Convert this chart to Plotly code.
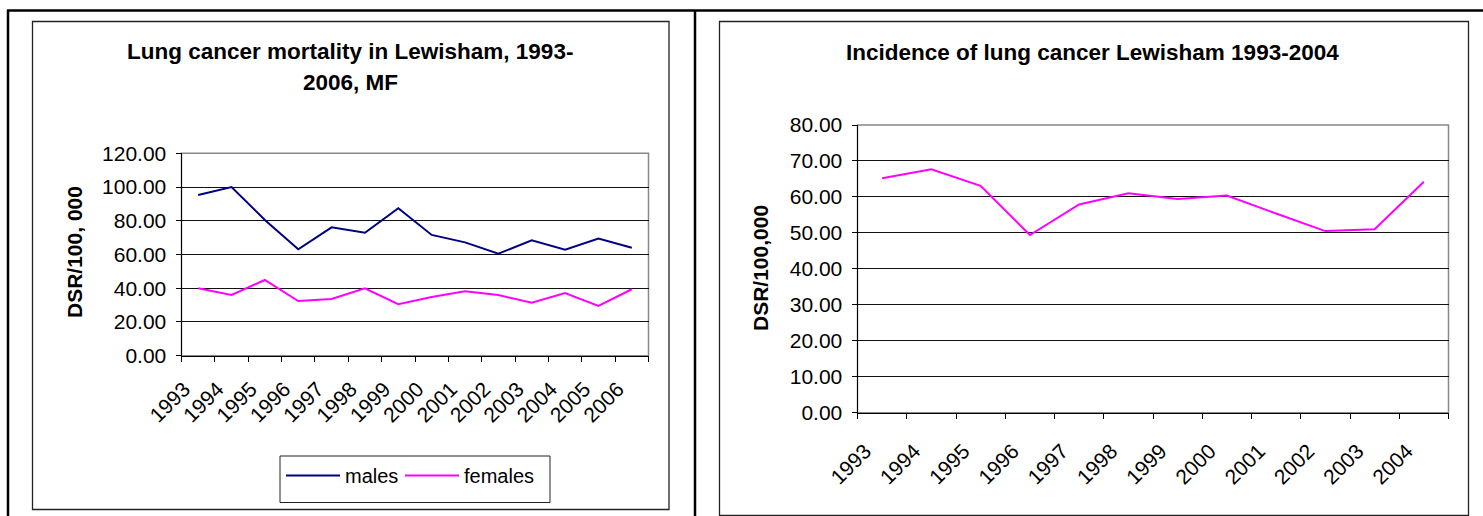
import plotly.graph_objects as go

# ---- data ----
mort_years = ["1993", "1994", "1995", "1996", "1997", "1998", "1999", "2000",
              "2001", "2002", "2003", "2004", "2005", "2006"]
males = [95.3, 100.0, 80.5, 63.1, 76.1, 72.9, 87.4, 71.6, 67.2, 60.5, 68.4, 62.8, 69.4, 64.0]
females = [40.0, 36.0, 44.9, 32.4, 33.6, 40.0, 30.5, 34.8, 38.2, 36.0, 31.4, 37.2, 29.5, 39.4]

inc_years = ["1993", "1994", "1995", "1996", "1997", "1998", "1999", "2000",
             "2001", "2002", "2003", "2004"]
incidence = [65.2, 67.7, 63.1, 49.4, 57.9, 61.0, 59.4, 60.4, 55.4, 50.5, 51.0, 64.2]

title_left_1 = "Lung cancer mortality in Lewisham, 1993-"
title_left_2 = "2006, MF"
title_right = "Incidence of lung cancer Lewisham 1993-2004"
ylabel_left = "DSR/100, 000"
ylabel_right = "DSR/100,000"

W, H = 1483, 516
FONT = "Liberation Sans, Arial, sans-serif"


def px(x):
    return x / W


def py(y):
    return 1 - y / H


fig = go.Figure()
fig.add_trace(go.Scatter(x=mort_years, y=males, mode="lines", name="males",
                         line=dict(color="#000080", width=2), xaxis="x", yaxis="y",
                         legend="legend"))
fig.add_trace(go.Scatter(x=mort_years, y=females, mode="lines", name="females",
                         line=dict(color="#FF00FF", width=2), xaxis="x", yaxis="y",
                         legend="legend2"))
fig.add_trace(go.Scatter(x=inc_years, y=incidence, mode="lines", name="incidence",
                         line=dict(color="#FF00FF", width=2), xaxis="x2", yaxis="y2",
                         showlegend=False))

tickfont = dict(family=FONT, size=21, color="black")
xcommon = dict(type="category", tickson="boundaries", ticks="outside", ticklen=5,
               tickcolor="black", tickangle=-45, showline=True, linecolor="black",
               linewidth=1, showgrid=False, zeroline=False, tickfont=tickfont,
               fixedrange=True, automargin=False)
ycommon = dict(tickformat=".2f", showgrid=True, gridcolor="#111111", gridwidth=1,
               showline=True, linecolor="black", linewidth=1, ticks="outside",
               ticklen=5, tickcolor="black", zeroline=False, tickfont=tickfont,
               fixedrange=True, automargin=False, ticklabelstandoff=5)

legend_common = dict(orientation="h", xanchor="left", yanchor="top",
                     font=dict(family=FONT, size=20, color="black"),
                     bgcolor="rgba(0,0,0,0)", borderwidth=0, itemwidth=54)

fig.update_layout(
    template="none",
    width=W, height=H,
    margin=dict(l=0, r=0, t=0, b=0, pad=0, autoexpand=False),
    paper_bgcolor="white", plot_bgcolor="white",
    font=dict(family=FONT, size=20, color="black"),
    xaxis=dict(domain=[px(181.5), px(648.5)], anchor="y",
               categoryorder="array", categoryarray=mort_years,
               range=[-0.5, len(mort_years) - 0.5],
               ticklabelstandoff=12, ticklabelshift=-14, **xcommon),
    yaxis=dict(domain=[py(355.7), py(153.3)], anchor="x", range=[0, 120], dtick=20,
               **ycommon),
    xaxis2=dict(domain=[px(857.5), px(1448.5)], anchor="y2",
                categoryorder="array", categoryarray=inc_years,
                range=[-0.5, len(inc_years) - 0.5],
                ticklabelstandoff=17, ticklabelshift=-17, **xcommon),
    yaxis2=dict(domain=[py(412.7), py(125)], anchor="x2", range=[0, 80], dtick=10,
                **ycommon),
    showlegend=True,
    legend=dict(x=px(281), y=py(456), **legend_common),
    legend2=dict(x=px(400), y=py(456), **legend_common),
)

shapes = []
# outer table lines
shapes.append(dict(type="line", xref="paper", yref="paper", x0=px(7), x1=1, y0=py(10.5), y1=py(10.5),
                   line=dict(color="black", width=2.5)))
shapes.append(dict(type="line", xref="paper", yref="paper", x0=px(8), x1=px(8), y0=py(10), y1=0,
                   line=dict(color="black", width=2.5)))
shapes.append(dict(type="line", xref="paper", yref="paper", x0=px(695), x1=px(695), y0=py(10), y1=0,
                   line=dict(color="black", width=2.5)))
# chart frames
shapes.append(dict(type="rect", xref="paper", yref="paper", x0=px(32.5), x1=px(669), y0=py(509.5), y1=py(21.5),
                   line=dict(color="#222222", width=1.3)))
shapes.append(dict(type="rect", xref="paper", yref="paper", x0=px(719.5), x1=px(1468.5), y0=py(515.5), y1=py(21.5),
                   line=dict(color="#222222", width=1.3)))
# plot area gray frames (top/right)
for xr, yr in (("x", "y"), ("x2", "y2")):
    shapes.append(dict(type="rect", xref=xr + " domain", yref=yr + " domain", x0=0, x1=1, y0=0, y1=1,
                       line=dict(color="#888888", width=1.5), layer="below"))
# legend box
shapes.append(dict(type="rect", xref="paper", yref="paper", x0=px(280), x1=px(550), y0=py(502.5), y1=py(456),
                   line=dict(color="#222222", width=1)))
fig.update_layout(shapes=shapes)

annotations = [
    dict(text="<b>%s</b>" % title_left_1, x=px(350), y=py(52), xref="paper", yref="paper",
         xanchor="center", yanchor="middle", showarrow=False, font=dict(family=FONT, size=22.5)),
    dict(text="<b>%s</b>" % title_left_2, x=px(350), y=py(82), xref="paper", yref="paper",
         xanchor="center", yanchor="middle", showarrow=False, font=dict(family=FONT, size=22.5)),
    dict(text="<b>%s</b>" % title_right, x=px(1092), y=py(53), xref="paper", yref="paper",
         xanchor="center", yanchor="middle", showarrow=False, font=dict(family=FONT, size=22.5)),
    dict(text="<b>%s</b>" % ylabel_left, x=px(74), y=py(252), xref="paper", yref="paper",
         xanchor="center", yanchor="middle", textangle=-90, showarrow=False,
         font=dict(family=FONT, size=21)),
    dict(text="<b>%s</b>" % ylabel_right, x=px(760), y=py(268), xref="paper", yref="paper",
         xanchor="center", yanchor="middle", textangle=-90, showarrow=False,
         font=dict(family=FONT, size=21)),
]
fig.update_layout(annotations=annotations)

fig.write_html("out.html")
